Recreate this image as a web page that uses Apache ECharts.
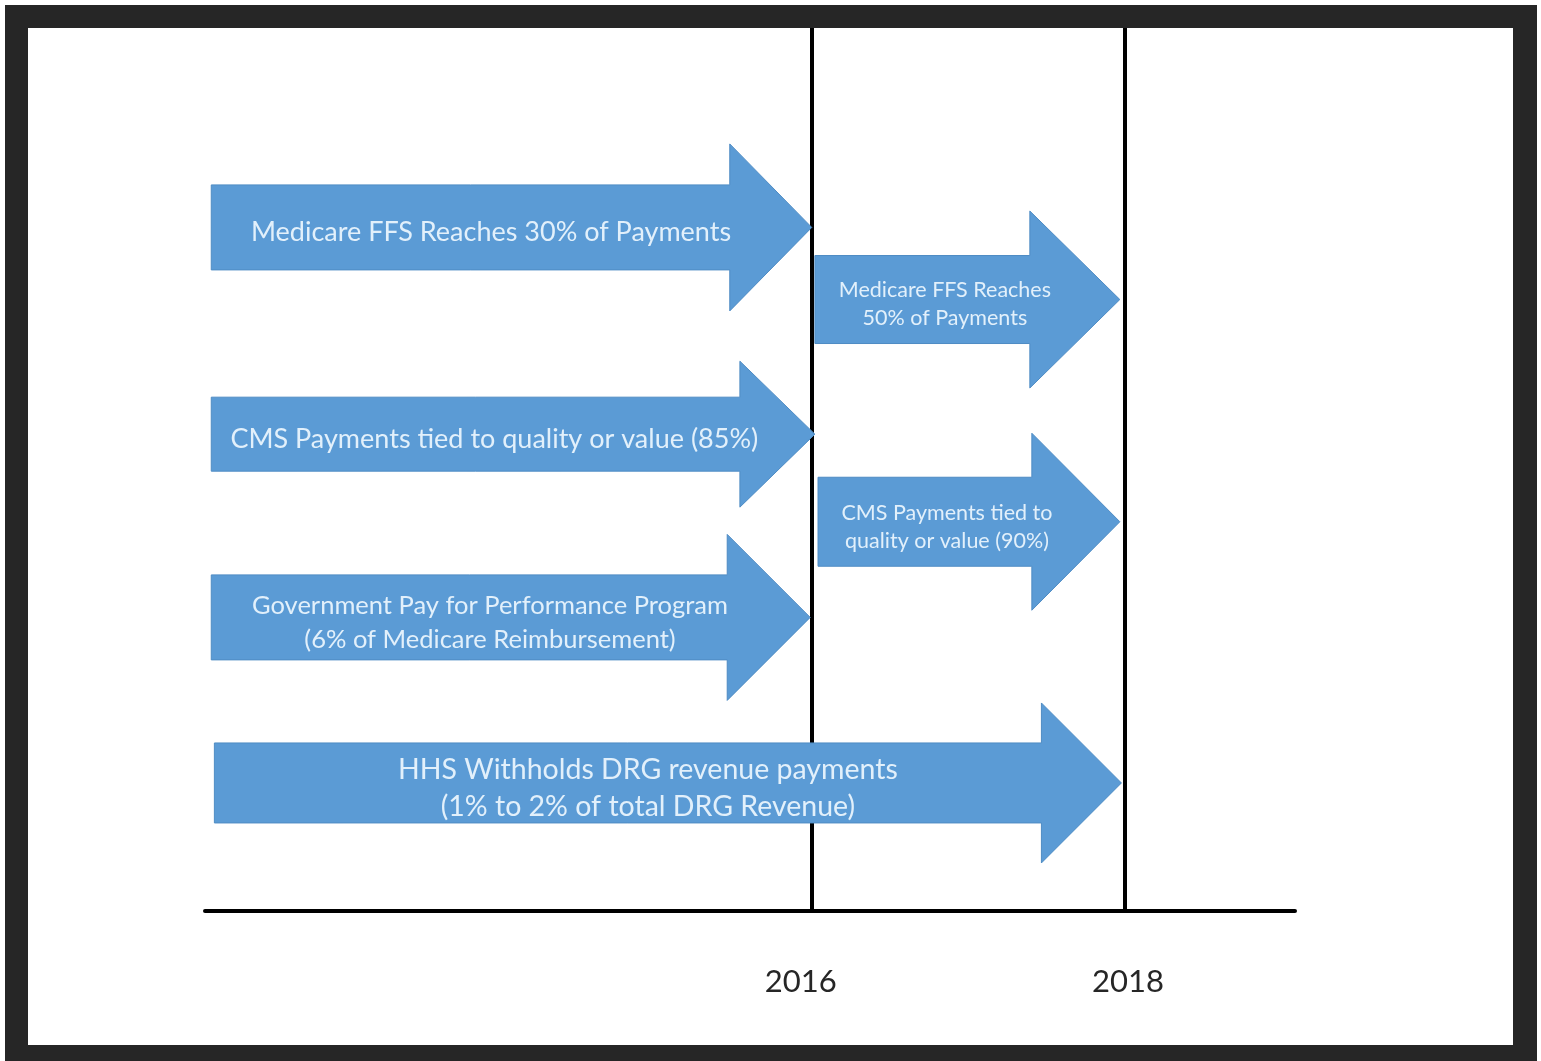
<!DOCTYPE html>
<html>
<head>
<meta charset="utf-8">
<script src="https://cdn.jsdelivr.net/npm/echarts@6/dist/echarts.min.js"></script>
<style>
  html, body { margin: 0; padding: 0; background: #ffffff; }
  #frame { position: absolute; left: 5px; top: 5px; width: 1532px; height: 1056px; background: #262626; }
  #inner { position: absolute; left: 28px; top: 28px; width: 1485px; height: 1017px; background: #ffffff; }
  #chart { position: absolute; left: 0; top: 0; width: 1541px; height: 1061px; }
</style>
</head>
<body>
<div id="frame"></div>
<div id="inner"></div>
<div id="chart"></div>
<script>
// ---- data ----
const arrowLabels = [
  "Medicare FFS Reaches 30% of Payments",
  "Medicare FFS Reaches\n50% of Payments",
  "CMS Payments tied to quality or value (85%)",
  "CMS Payments tied to\nquality or value (90%)",
  "Government Pay for Performance Program\n(6% of Medicare Reimbursement)",
  "HHS Withholds DRG revenue payments\n(1% to 2% of total DRG Revenue)"
];
const arrowStart = [2012.16, 2016.02, 2012.16, 2016.04, 2012.16, 2012.18];
const arrowEnd   = [2016.00, 2017.97, 2016.02, 2017.97, 2015.99, 2017.98];
const arrowLane  = [9.29, 8.31, 6.48, 5.29, 3.99, 1.74];
const tickYears  = [2016, 2018];

// ---- shape styles (pixels) ----
const ARROW_SHAPE = [
  { bh: 42.5, hh: 83.5, hl: 82, font: 27,   lh: 30 },
  { bh: 44,   hh: 88.5, hl: 90, font: 21.5, lh: 28 },
  { bh: 37,   hh: 73,   hl: 75, font: 27,   lh: 30 },
  { bh: 44.5, hh: 88.5, hl: 88, font: 21.5, lh: 28 },
  { bh: 42.5, hh: 83,   hl: 83, font: 25.5, lh: 34 },
  { bh: 40,   hh: 80,   hl: 80, font: 28.5, lh: 37 }
];

const seriesData = arrowLabels.map((t, i) => [arrowStart[i], arrowEnd[i], arrowLane[i], i]);

const chart = echarts.init(document.getElementById('chart'), null, { renderer: 'canvas' });

function renderArrow(params, api) {
  const i = api.value(3);
  const s = ARROW_SHAPE[i];
  const p0 = api.coord([api.value(0), api.value(2)]);
  const p1 = api.coord([api.value(1), api.value(2)]);
  const x0 = p0[0], x1 = p1[0], y = p0[1];
  const xh = x1 - s.hl;
  const pts = [
    [x0, y - s.bh], [xh, y - s.bh], [xh, y - s.hh], [x1, y],
    [xh, y + s.hh], [xh, y + s.bh], [x0, y + s.bh]
  ];
  const tx = x0 + (xh - x0) / 2 + s.hl * 0.25;
  return {
    type: 'group',
    children: [
      {
        type: 'polygon',
        shape: { points: pts },
        style: { fill: '#5b9bd5', stroke: '#4f8cc4', lineWidth: 1 }
      },
      {
        type: 'text',
        x: tx, y: y + 5,
        style: {
          text: arrowLabels[i],
          fill: '#e2f0fb',
          font: s.font + 'px Lato, "Open Sans", sans-serif',
          lineHeight: s.lh,
          align: 'center',
          verticalAlign: 'middle'
        }
      }
    ]
  };
}

chart.setOption({
  animation: false,
  backgroundColor: 'transparent',
  grid: { left: 205, right: 246, top: 28, bottom: 150 },
  xAxis: {
    type: 'value',
    min: 2012.12,
    max: 2019.09,
    axisLine: { show: true, lineStyle: { color: '#000', width: 4 } },
    axisTick: { show: false },
    splitLine: { show: false },
    axisLabel: {
      customValues: tickYears,
      formatter: v => (Math.round(v) === 2016 ? '{a|2016}' : '{b|' + Math.round(v) + '}'),
      color: '#262626',
      fontSize: 31,
      fontFamily: 'Lato, "Open Sans", sans-serif',
      margin: 55,
      rich: {
        a: { fontSize: 31, color: '#262626', fontFamily: 'Lato, "Open Sans", sans-serif', padding: [0, 22, 0, 0] },
        b: { fontSize: 31, color: '#262626', fontFamily: 'Lato, "Open Sans", sans-serif', padding: [0, 0, 0, 7] }
      }
    }
  },
  yAxis: {
    type: 'value', min: 0, max: 12, show: false
  },
  series: [
    {
      type: 'line',
      data: [],
      z: 1,
      markLine: {
        silent: true,
        z: 1,
        symbol: ['none', 'none'],
        label: { show: false },
        lineStyle: { color: '#000', width: 4, type: 'solid' },
        data: tickYears.map(y => ({ xAxis: y }))
      }
    },
    {
      type: 'custom',
      z: 10,
      renderItem: renderArrow,
      encode: { x: [0, 1], y: 2 },
      data: seriesData
    }
  ]
});
</script>
</body>
</html>
